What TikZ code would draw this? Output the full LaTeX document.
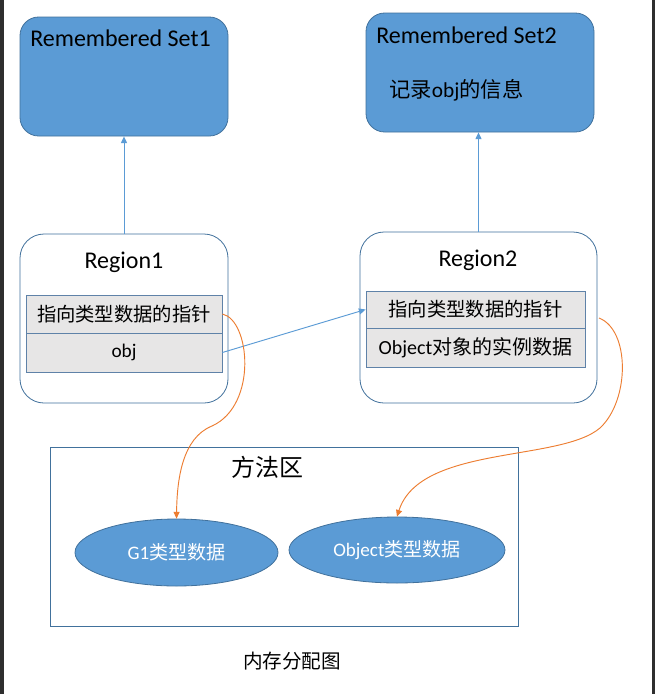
\documentclass[tikz,border=0pt]{standalone}
\usepackage{fontspec}
\setmainfont{Carlito}
\newfontfamily\cjk{Noto Sans CJK SC}
\usetikzlibrary{arrows.meta,fit,shapes.geometric}
\definecolor{bfill}{HTML}{5B9BD5}
\definecolor{bline}{HTML}{41719C}
\definecolor{gfill}{HTML}{E7E6E6}
\definecolor{tline}{HTML}{5F82A8}
\definecolor{orng}{HTML}{ED7D31}
\definecolor{strip}{HTML}{2E2E2E}
\tikzset{
  rsbox/.style={draw=bline, fill=bfill, line width=0.6pt, rounded corners=14pt, inner sep=0pt},
  regbox/.style={draw=bline, fill=white, line width=0.6pt, rounded corners=18pt, inner sep=0pt},
  rowbox/.style={draw=tline, fill=gfill, line width=0.6pt, inner sep=0pt, font=\fontsize{14.5pt}{16pt}\selectfont},
  areabox/.style={draw=bline, line width=0.6pt, inner sep=0pt},
  ell/.style={ellipse, draw=bline, fill=bfill, line width=0.6pt, inner sep=0pt, text=white, font=\fontsize{14.3pt}{16pt}\selectfont},
  title/.style={inner sep=0pt, font=\fontsize{18pt}{20pt}\selectfont},
  txt/.style={inner sep=0pt},
  bluearrow/.style={draw=bfill, line width=0.7pt, -{Triangle[width=4.5pt,length=5pt]}},
  orarrow/.style={draw=orng, line width=0.7pt, -{Triangle[width=4.5pt,length=5pt]}}
}
\begin{document}
\begin{tikzpicture}[x=0.75pt,y=-0.75pt]
\useasboundingbox (0,0) rectangle (655,694);
\fill[white] (0,0) rectangle (655,694);
\fill[strip] (0,0) rectangle (4,694);
\fill[strip] (652,0) rectangle (655,694);

% Remembered sets
\node[rsbox, fit={(20,17) (228,136)}] (rs1) {};
\node[title, anchor=west] (rs1t) at (30,38) {Remembered Set1};
\node[rsbox, fit={(366,13) (594,132)}] (rs2) {};
\node[title, anchor=west] (rs2t) at (376,35) {Remembered Set2};
\node[txt, anchor=west, font=\fontsize{16pt}{18pt}\selectfont] (rs2i) at (389,90) {{\cjk 记录}obj{\cjk 的信息}};

% Region1
\node[regbox, fit={(20,234) (228,403)}] (reg1) {};
\node[title] (reg1t) at (124,262) {Region1};
\node[rowbox, fit={(26,295) (222,333)}] (r1a) {};
\node[txt, font=\fontsize{14.5pt}{16pt}\selectfont] at (r1a.center) {\cjk 指向类型数据的指针};
\node[rowbox, fit={(26,333) (222,372)}] (r1b) {};
\node[txt, font=\fontsize{14.5pt}{16pt}\selectfont] at (r1b.center) {obj};

% Region2
\node[regbox, fit={(360,232) (597,403)}] (reg2) {};
\node[title] (reg2t) at (478,260) {Region2};
\node[rowbox, fit={(366,291) (585,328)}] (r2a) {};
\node[txt, font=\fontsize{14.5pt}{16pt}\selectfont] at (r2a.center) {\cjk 指向类型数据的指针};
\node[rowbox, fit={(366,328) (585,367)}] (r2b) {};
\node[txt, font=\fontsize{15pt}{17pt}\selectfont] at (r2b.center) {Object{\cjk 对象的实例数据}};

% Method area
\node[areabox, fit={(50,447) (518,626)}] (area) {};
\node[txt, font=\fontsize{18pt}{20pt}\selectfont] (areat) at (267,467) {\cjk 方法区};
\node[ell, minimum width=152.25pt, minimum height=50.25pt] (e1) at (176.5,552.5) {G1{\cjk 类型数据}};
\node[ell, minimum width=162pt, minimum height=49.5pt] (e2) at (397,550) {Object{\cjk 类型数据}};

\node[txt, font=\fontsize{14.7pt}{16pt}\selectfont] (cap) at (292,661) {\cjk 内存分配图};

% connectors
\draw[bluearrow] (reg1.north -| rs1.south) -- (rs1.south);
\draw[bluearrow] (reg2.north) -- (reg2.north |- rs2.south);
\draw[bluearrow] (r1b.east) -- (r2a.west);

\coordinate (m1) at (212,426);
\draw[orarrow] (r1a.east) .. controls (250,320) and (258,405) .. (m1)
   .. controls (182,438) and (177,480) .. (e1.north);

\coordinate (s2) at (599,318);
\coordinate (m2) at (600,428);
\draw[orarrow] (s2) .. controls (630,330) and (630,400) .. (m2)
   .. controls (560,462) and (420,445) .. (e2.north);
\end{tikzpicture}
\end{document}
